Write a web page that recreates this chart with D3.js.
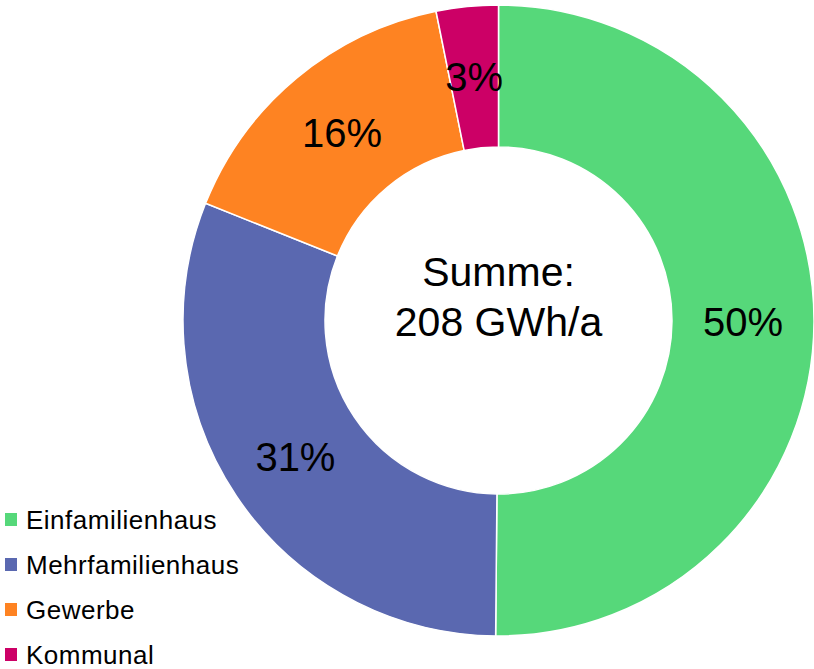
<!DOCTYPE html>
<html>
<head>
<meta charset="utf-8">
<script src="https://cdn.jsdelivr.net/npm/d3@7"></script>
<style>
	body { margin: 0; background: #fff; }
	svg { display: block; font-family: 'Liberation Sans', Arial, sans-serif; }
</style>
</head>
<body>
<svg id="chart" width="814" height="669"></svg>
<script>
'use strict';

var aCategories = ['Einfamilienhaus', 'Mehrfamilienhaus', 'Gewerbe', 'Kommunal'];
var aValues = [104.3, 64.3, 32.8, 6.6];
var aLabels = ['50%', '31%', '16%', '3%'];
var aColors = ['#56d87a', '#5a68b0', '#fe8322', '#cc0066'];
var aCenterText = ['Summe:', '208 GWh/a'];

var sSvg = d3.select('#chart');

var nCx = 498.5, nCy = 320.5;
var nOuter = 315.5, nInner = 173.5;

var pie = d3.pie().sort(null).value(function(d) { return d; });
var arc = d3.arc().innerRadius(nInner).outerRadius(nOuter);

var aArcs = pie(aValues);

var sChart = sSvg.append('g')
	.attr('transform', 'translate(' + nCx + ',' + nCy + ')');

sChart.selectAll('path')
	.data(aArcs)
	.enter()
		.append('path')
			.attr('d', arc)
			.attr('fill', function(d, i) { return aColors[i]; })
			.attr('stroke', '#fff')
			.attr('stroke-width', 1.5);

sChart.selectAll('.label')
	.data(aArcs)
	.enter()
		.append('text')
			.attr('class', 'label')
			.attr('transform', function(d) { return 'translate(' + arc.centroid(d) + ')'; })
			.attr('dy', '0.35em')
			.style('text-anchor', 'middle')
			.style('font-size', '40px')
			.attr('fill', '#000')
			.text(function(d, i) { return aLabels[i]; });

// two lines, baselines 50px apart
sChart.selectAll('.center')
	.data(aCenterText)
	.enter()
		.append('text')
			.attr('class', 'center')
			.attr('y', function(d, i) { return -34.5 + i * 50; })
			.style('text-anchor', 'middle')
			.style('font-size', '41px')
			.attr('fill', '#000')
			.text(function(d) { return d; });

var scaleY = d3.scaleBand()
	.domain(aCategories)
	.range([497, 677]);

var sLegends = sSvg.selectAll('.legend')
	.data(aCategories)
	.enter()
		.append('g')
			.attr('class', 'legend')
			.attr('transform', function(d) { return 'translate(5,' + (scaleY(d) + scaleY.bandwidth() / 2) + ')'; });

sLegends.append('rect')
	.attr('x', 0)
	.attr('y', -6.5)
	.attr('width', 12)
	.attr('height', 13)
	.attr('fill', function(d, i) { return aColors[i]; });

sLegends.append('text')
	.attr('x', 21)
	.attr('y', 0)
	.attr('dy', '0.35em')
	.style('font-size', '26px')
	.style('letter-spacing', '0.5px')
	.attr('fill', '#000')
	.text(function(d) { return d; });
</script>
</body>
</html>
